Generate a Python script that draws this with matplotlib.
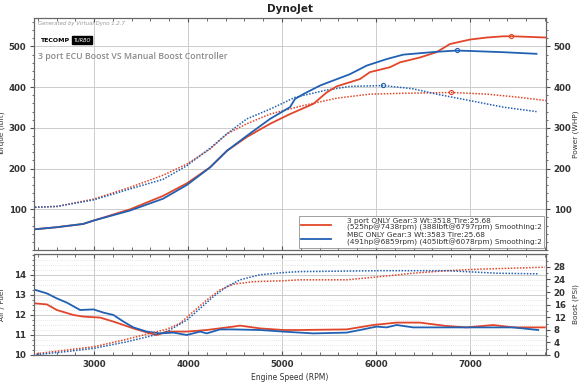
import matplotlib
matplotlib.use("Agg")
import matplotlib.pyplot as plt
from matplotlib.ticker import MultipleLocator
from matplotlib.lines import Line2D

RED = "#e2462a"
BLUE = "#2161b3"

# ---- Power (WHP), solid ----
red_hp_rpm = [2370, 2603, 2883, 2990, 3383, 3734, 3989, 4234, 4415, 4628, 4872, 5085, 5333, 5475, 5582,
              5830, 5936, 6149, 6255, 6468, 6645, 6787, 7000, 7177, 7354, 7460, 7815]
red_hp = [51, 56, 64, 72, 100, 133, 164, 203, 244, 278, 310, 334, 359, 387, 402,
          420, 437, 449, 461, 473, 486, 506, 517, 522, 525, 525, 522]
blue_hp_rpm = [2370, 2603, 2883, 2990, 3383, 3734, 3989, 4234, 4415, 4628, 4872, 5085, 5138, 5227, 5404,
               5723, 5901, 6113, 6291, 6645, 6858, 7000, 7354, 7709]
blue_hp = [51, 56, 64, 72, 97, 126, 160, 203, 244, 281, 322, 351, 371, 383, 404,
           432, 453, 469, 480, 487, 490, 489, 486, 482]

# ---- Torque (lbft), dotted ----
red_tq_rpm = [2370, 2603, 2993, 3383, 3737, 3986, 4234, 4411, 4624, 4872, 5227, 5582, 5936, 6291, 6805,
              7177, 7532, 7815]
red_tq = [105, 107, 125, 154, 184, 211, 248, 285, 310, 334, 355, 373, 383, 385, 387,
          383, 375, 367]
blue_tq_rpm = [2370, 2603, 2993, 3383, 3737, 3986, 4234, 4411, 4624, 4872, 5138, 5475, 5723, 6078, 6397,
               6645, 7000, 7354, 7709]
blue_tq = [105, 107, 123, 150, 174, 207, 250, 285, 322, 346, 375, 393, 402, 404, 396,
           383, 367, 351, 340]

# peak markers
red_hp_peak = (7438, 525)
blue_hp_peak = (6859, 491)
red_tq_peak = (6797, 388)
blue_tq_peak = (6078, 405)

# ---- Air / Fuel, solid ----
red_afr_rpm = [2372, 2497, 2603, 2780, 2887, 3064, 3206, 3418, 3596, 3667, 3773, 3986, 4199, 4482, 4553,
               4766, 5014, 5191, 5688, 5971, 6220, 6468, 6752, 6965, 7248, 7461, 7798]
red_afr = [12.58, 12.53, 12.25, 12.0, 11.92, 11.87, 11.67, 11.33, 11.08, 11.0, 11.17, 11.17, 11.25, 11.42, 11.47,
           11.33, 11.25, 11.25, 11.28, 11.5, 11.62, 11.62, 11.45, 11.38, 11.5, 11.38, 11.38]
blue_afr_rpm = [2355, 2497, 2603, 2709, 2851, 2993, 3099, 3206, 3312, 3418, 3560, 3702, 3844, 3986, 4128,
                4199, 4340, 4482, 4766, 5014, 5333, 5688, 5830, 6007, 6113, 6220, 6397, 6752, 7000,
                7248, 7461, 7727]
blue_afr = [13.28, 13.08, 12.83, 12.62, 12.25, 12.28, 12.12, 12.0, 11.67, 11.38, 11.17, 11.08, 11.12, 11.0, 11.17,
            11.08, 11.28, 11.28, 11.25, 11.17, 11.08, 11.12, 11.25, 11.42, 11.38, 11.5, 11.38, 11.38, 11.38,
            11.38, 11.38, 11.25]

# ---- Boost (PSI), dotted ----
red_boost_rpm = [2355, 2709, 2993, 3347, 3596, 3773, 3915, 4057, 4199, 4340, 4482, 4695, 5014, 5191, 5688,
                 6043, 6397, 6752, 7106, 7461, 7798]
red_boost = [0.3, 1.6, 2.6, 5.0, 6.9, 8.2, 10.1, 13.8, 17.5, 20.7, 22.5, 23.3, 23.6, 23.9, 23.9,
             24.9, 26.0, 26.8, 27.3, 27.6, 27.9]
blue_boost_rpm = [2355, 2709, 2993, 3347, 3596, 3773, 3986, 4128, 4270, 4411, 4553, 4766, 5014, 5191, 6043,
                  6752, 7284, 7727]
blue_boost = [0.0, 1.1, 2.1, 4.2, 6.0, 7.4, 11.1, 14.8, 18.6, 21.7, 23.9, 25.5, 26.2, 26.5, 26.8,
              26.8, 26.0, 25.8]

legend_labels = [
    "3 port ONLY Gear:3 Wt:3518 Tire:25.68\n(525hp@7438rpm) (388lbft@6797rpm) Smoothing:2",
    "MBC ONLY Gear:3 Wt:3583 Tire:25.68\n(491hp@6859rpm) (405lbft@6078rpm) Smoothing:2",
]

XMIN, XMAX = 2360, 7810
TICKC = "#333333"
TICKFS = 6.2

fig = plt.figure(figsize=(5.8, 3.82), dpi=100)
fig.patch.set_facecolor("white")

ax1 = fig.add_axes([34 / 580, 1 - 250 / 382, 512 / 580, 232 / 382])
ax1r = ax1.twinx()
ax2 = fig.add_axes([34 / 580, 1 - 355 / 382, 512 / 580, 101 / 382])
ax2r = ax2.twinx()

for a in (ax1, ax1r, ax2, ax2r):
    a.set_xlim(XMIN, XMAX)
    for s in a.spines.values():
        s.set_color("#666666")
        s.set_linewidth(0.8)

# top panel
ax1.set_ylim(0, 570)
ax1r.set_ylim(0, 570)
ax1.yaxis.set_minor_locator(MultipleLocator(20))
ax1r.yaxis.set_minor_locator(MultipleLocator(20))
ax1.set_yticks([100, 200, 300, 400, 500])
ax1r.set_yticks([100, 200, 300, 400, 500])
ax1.xaxis.set_major_locator(MultipleLocator(1000))
ax1.xaxis.set_minor_locator(MultipleLocator(200))
ax1.grid(True, which="major", color="#cccccc", linewidth=0.7)
ax1.tick_params(axis="x", which="both", labelbottom=False, top=True, direction="in", colors="#555555")
ax1.tick_params(axis="x", which="major", length=3)
ax1.tick_params(axis="x", which="minor", length=2)
for a in (ax1, ax1r):
    a.tick_params(axis="y", which="major", length=3, pad=2.5, labelsize=TICKFS, labelcolor=TICKC,
                  colors="#555555")
    a.tick_params(axis="y", which="minor", length=1.5, colors="#555555")
for lab in ax1.get_yticklabels() + ax1r.get_yticklabels():
    lab.set_fontweight("bold")

ax1.plot(red_hp_rpm, red_hp, color=RED, lw=1.3, zorder=4)
ax1.plot(blue_hp_rpm, blue_hp, color=BLUE, lw=1.3, zorder=4)
ax1.plot(red_tq_rpm, red_tq, color=RED, lw=1.1, ls=(0, (1, 1)), zorder=3)
ax1.plot(blue_tq_rpm, blue_tq, color=BLUE, lw=1.1, ls=(0, (1, 1)), zorder=3)
for (px, py), c in [(red_hp_peak, RED), (blue_hp_peak, BLUE), (red_tq_peak, RED), (blue_tq_peak, BLUE)]:
    ax1.plot([px], [py], marker="o", ms=3, mfc="none", mec=c, mew=0.8, zorder=5)

ax1.set_ylabel("Torque (lbft)", fontsize=5.3, color="#333333")
ax1.yaxis.set_label_coords(-0.056, 0.5)
ax1r.set_ylabel("Power (WHP)", fontsize=5.3, color="#333333")
ax1r.yaxis.set_label_coords(1.051, 0.5)

handles = [Line2D([], [], color=RED, lw=1.3), Line2D([], [], color=BLUE, lw=1.3)]
leg = ax1.legend(handles, legend_labels, loc="lower right", bbox_to_anchor=(1.0, 0.0),
                 fontsize=5.3, frameon=True, fancybox=False, edgecolor="#888888",
                 handlelength=4, handletextpad=2.2, borderpad=0.3, labelspacing=0.15,
                 borderaxespad=0.3)
leg.get_frame().set_linewidth(0.7)
for t in leg.get_texts():
    t.set_color("#333333")
    t.set_linespacing(1.0)

ax1.text(0.008, 0.985, "Generated by Virtual Dyno 1.2.7", transform=ax1.transAxes,
         fontsize=3.9, style="italic", color="#999999", va="top", ha="left")
ax1.text(0.012, 0.905, "TECOMP ", transform=ax1.transAxes, fontsize=4.5, fontweight="bold",
         color="black", va="center", ha="left")
ax1.text(0.077, 0.905, "TURBO", transform=ax1.transAxes, fontsize=3.6, style="italic",
         color="white", va="center", ha="left",
         bbox=dict(boxstyle="square,pad=0.25", fc="black", ec="black"))
ax1.text(0.008, 0.835, "3 port ECU Boost VS Manual Boost Controller", transform=ax1.transAxes,
         fontsize=6.3, color="#8a8a8a", va="center", ha="left", family="Open Sans",
         fontweight="semibold")

fig.text(0.5, 1 - 9 / 382, "DynoJet", fontsize=7.5, color="#222222", ha="center", va="center",
         fontweight="bold")

# bottom panel
ax2.set_ylim(10, 15.05)
ax2r.set_ylim(0, 32.1)
ax2.set_yticks([10, 11, 12, 13, 14])
ax2.yaxis.set_minor_locator(MultipleLocator(0.25))
ax2r.set_yticks([0, 4, 8, 12, 16, 20, 24, 28])
ax2r.yaxis.set_minor_locator(MultipleLocator(2))
ax2.xaxis.set_major_locator(MultipleLocator(1000))
ax2.xaxis.set_minor_locator(MultipleLocator(200))
ax2.grid(True, which="major", axis="x", color="#cccccc", linewidth=0.7)
ax2.grid(True, which="major", axis="y", color="#cccccc", linewidth=0.7)
ax2.grid(True, which="minor", axis="y", color="#d0d0d0", linewidth=0.5, linestyle=(0, (1, 2)))
ax2.tick_params(axis="x", which="major", length=3, labelsize=TICKFS, labelcolor=TICKC, colors="#555555",
                top=True, direction="in")
ax2.tick_params(axis="x", which="minor", length=2, top=True, direction="in", colors="#555555")
for a in (ax2, ax2r):
    a.tick_params(axis="y", which="major", length=3, pad=2.5, labelsize=TICKFS, labelcolor=TICKC,
                  colors="#555555")
    a.tick_params(axis="y", which="minor", length=1.5, colors="#555555")
for lab in ax2.get_yticklabels() + ax2r.get_yticklabels() + ax2.get_xticklabels():
    lab.set_fontweight("bold")

ax2.plot(red_afr_rpm, red_afr, color=RED, lw=1.3, zorder=4)
ax2.plot(blue_afr_rpm, blue_afr, color=BLUE, lw=1.3, zorder=4)
ax2r.plot(red_boost_rpm, red_boost, color=RED, lw=1.1, ls=(0, (1, 1)), zorder=3)
ax2r.plot(blue_boost_rpm, blue_boost, color=BLUE, lw=1.1, ls=(0, (1, 1)), zorder=3)

ax2.set_ylabel("Air / Fuel", fontsize=5.3, color="#333333")
ax2.yaxis.set_label_coords(-0.056, 0.5)
ax2r.set_ylabel("Boost (PSI)", fontsize=5.3, color="#333333")
ax2r.yaxis.set_label_coords(1.051, 0.5)
ax2.set_xlabel("Engine Speed (RPM)", fontsize=5.5, color="#333333", labelpad=3)

fig.savefig("out.png", dpi=100, facecolor="white")
